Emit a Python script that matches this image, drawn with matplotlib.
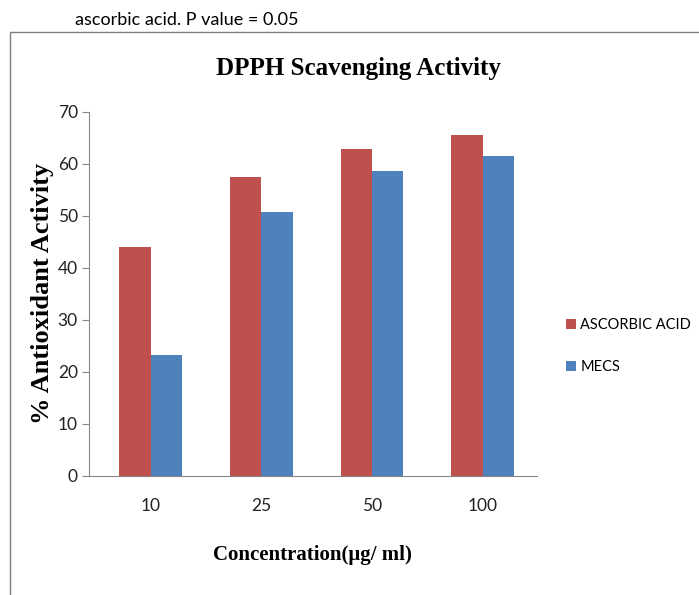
import matplotlib.pyplot as plt
import numpy as np
from matplotlib.patches import Rectangle

concentrations = ["10", "25", "50", "100"]
ascorbic_acid = [44.0, 57.5, 62.9, 65.6]
mecs = [23.2, 50.8, 58.7, 61.5]

red = "#C0504D"
blue = "#4F81BD"
axis_grey = "#868686"
sans = ["Lato", "DejaVu Sans"]
serif = ["Liberation Serif", "DejaVu Serif"]

fig = plt.figure(figsize=(6.99, 5.95), dpi=100)
ax = fig.add_axes([0.1273, 0.2, 0.6407, 0.6118])

# outer frame of the chart box
fig.patches.append(Rectangle((10 / 699, -0.05), 1.0, 1 - 32 / 595 + 0.05,
                             transform=fig.transFigure, fill=False,
                             edgecolor="#7f7f7f", linewidth=1.0))

fig.text(75 / 699, 1 - 20 / 595, "ascorbic acid. P value = 0.05",
         family=sans, fontsize=13, va="center", ha="left")

x = np.arange(len(concentrations))
w = 0.284
ax.bar(x - w / 2, ascorbic_acid, w, color=red, label="ASCORBIC ACID")
ax.bar(x + w / 2, mecs, w, color=blue, label="MECS")

ax.set_xlim(-0.557, 3.49)
ax.set_ylim(0, 70)
ax.set_yticks(range(0, 71, 10))
ax.set_xticks(x)
ax.set_xticklabels(concentrations)

for side in ("top", "right"):
    ax.spines[side].set_visible(False)
for side in ("left", "bottom"):
    ax.spines[side].set_color(axis_grey)
ax.tick_params(axis="y", length=5, color=axis_grey, pad=3, labelsize=12.5)
ax.tick_params(axis="x", length=0, pad=16, labelsize=12.5)
for lbl in ax.get_xticklabels() + ax.get_yticklabels():
    lbl.set_family(sans)
    lbl.set_color("#222222")

fig.text(358 / 699, 1 - 68 / 595, "DPPH Scavenging Activity", family=serif,
         fontweight="bold", fontsize=18, ha="center", va="center")
ax.set_ylabel("% Antioxidant Activity", family=serif, fontweight="bold",
              fontsize=19)
ax.yaxis.set_label_coords(-0.078, 0.503)
ax.set_xlabel("Concentration(\u03bcg/ ml)", family=serif, fontweight="bold",
              fontsize=15)
ax.xaxis.set_label_coords(0.5, -0.19)

ax.legend(loc="center left", bbox_to_anchor=(560 / 699, 1 - 346 / 595),
          bbox_transform=fig.transFigure, borderaxespad=0, frameon=False,
          prop={"family": sans, "size": 10.5}, handlelength=0.7,
          handleheight=0.7, handletextpad=0.3, labelspacing=1.9)

fig.savefig("out.png", dpi=100)
